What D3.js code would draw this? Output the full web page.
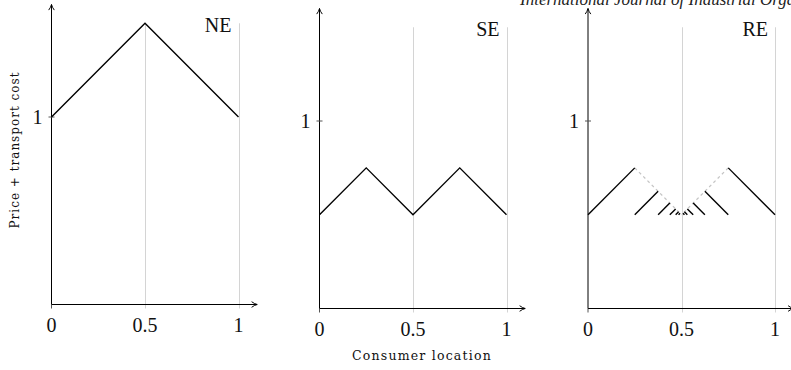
<!DOCTYPE html>
<html>
<head>
<meta charset="utf-8">
<script src="https://cdn.jsdelivr.net/npm/d3@7"></script>
<style>
  body { margin: 0; background: #fff; }
  svg { display: block; }
</style>
</head>
<body>
<div id="chart"></div>
<script>
// tick values and panel names
const xTicks = [0, 0.5, 1];
const yTicks = [1];
const panelNames = ["NE", "SE", "RE"];

// NE: single peak
const neX = [0, 0.5, 1];
const neY = [1, 1.5, 1];

// SE: two peaks
const seX = [0, 0.25, 0.5, 0.75, 1];
const seY = [0.5, 0.75, 0.5, 0.75, 0.5];

// RE: solid pieces [x1, y1, x2, y2]
const reSolid = [
  [0, 0.5, 0.25, 0.75],
  [0.25, 0.5, 0.375, 0.625],
  [0.375, 0.5, 0.4375, 0.5625],
  [0.4375, 0.5, 0.46875, 0.53125],
  [0.46875, 0.5, 0.484375, 0.515625],
  [0.484375, 0.5, 0.4921875, 0.5078125],
  [1, 0.5, 0.75, 0.75],
  [0.75, 0.5, 0.625, 0.625],
  [0.625, 0.5, 0.5625, 0.5625],
  [0.5625, 0.5, 0.53125, 0.53125],
  [0.53125, 0.5, 0.515625, 0.515625],
  [0.515625, 0.5, 0.5078125, 0.5078125]
];
// RE: grey dashed envelope
const reDashed = [
  [0.25, 0.75, 0.5, 0.5],
  [0.75, 0.75, 0.5, 0.5]
];

const W = 791, H = 370;
const serif = "Liberation Serif";
const small = "DejaVu Serif";

const svg = d3.select("#chart").append("svg")
  .attr("width", W)
  .attr("height", H);

// arrow head like tikz "->"
svg.append("defs").append("marker")
  .attr("id", "arr")
  .attr("viewBox", "0 0 10 10")
  .attr("refX", 9)
  .attr("refY", 5)
  .attr("markerWidth", 7)
  .attr("markerHeight", 7)
  .attr("markerUnits", "userSpaceOnUse")
  .attr("orient", "auto")
  .append("path")
  .attr("d", "M1,1 Q5,4 9,5 Q5,6 1,9")
  .attr("fill", "none")
  .attr("stroke", "#000")
  .attr("stroke-width", 1.4);

// journal header, cut at the top edge
svg.append("text")
  .attr("x", 520)
  .attr("y", 5)
  .attr("font-family", serif)
  .attr("font-style", "italic")
  .attr("font-size", "17px")
  .attr("fill", "#222")
  .text("International Journal of Industrial Organization");

const panels = [
  { x0: 51.5, base: 304.5 },
  { x0: 319.5, base: 308.5 },
  { x0: 588, base: 308.5 }
];

panels.forEach((p, i) => {
  const x = d3.scaleLinear().domain([0, 1]).range([p.x0, p.x0 + 187]);
  const y = d3.scaleLinear().domain([0, 1]).range([p.base, p.base - 187.5]);
  const g = svg.append("g");

  // grey verticals at 0.5 and 1
  g.selectAll(".grid")
    .data(xTicks.filter(d => d > 0))
    .enter().append("line")
    .attr("x1", d => Math.round(x(d)) + 0.5)
    .attr("x2", d => Math.round(x(d)) + 0.5)
    .attr("y1", y(1.5))
    .attr("y2", y(0) + 4)
    .attr("stroke", "#d4d4d4")
    .attr("stroke-width", 1);

  // x axis
  g.append("line")
    .attr("x1", x(0)).attr("x2", x(1.1))
    .attr("y1", y(0)).attr("y2", y(0))
    .attr("stroke", "#000").attr("stroke-width", 1)
    .attr("marker-end", "url(#arr)");
  g.append("line")
    .attr("x1", x(0)).attr("x2", x(0))
    .attr("y1", y(0)).attr("y2", y(0) + 4)
    .attr("stroke", "#555");

  // y axis
  g.append("line")
    .attr("x1", x(0)).attr("x2", x(0))
    .attr("y1", y(0)).attr("y2", y(1.6))
    .attr("stroke", "#000").attr("stroke-width", 1)
    .attr("marker-end", "url(#arr)");

  g.selectAll(".ytick")
    .data(yTicks)
    .enter().append("line")
    .attr("x1", x(0) - 3).attr("x2", x(0) + 3)
    .attr("y1", d => y(d)).attr("y2", d => y(d))
    .attr("stroke", "#555");

  // tick labels
  g.selectAll(".xl")
    .data(xTicks)
    .enter().append("text")
    .attr("x", d => x(d))
    .attr("y", y(0) + 27)
    .attr("text-anchor", "middle")
    .attr("font-family", serif)
    .attr("font-size", "20px")
    .attr("fill", "#111")
    .text(d => d3.format("")(d));

  g.selectAll(".yl")
    .data(yTicks)
    .enter().append("text")
    .attr("x", x(0) - 9)
    .attr("y", d => y(d) + 7)
    .attr("text-anchor", "end")
    .attr("font-family", serif)
    .attr("font-size", "20px")
    .attr("fill", "#111")
    .text(d => d);

  // panel name
  g.append("text")
    .attr("x", x(1) - 7)
    .attr("y", y(1.5) + 9)
    .attr("text-anchor", "end")
    .attr("font-family", serif)
    .attr("font-size", "20px")
    .attr("fill", "#111")
    .text(panelNames[i]);

  const line = d3.line().x(d => x(d[0])).y(d => y(d[1]));

  if (i === 0) {
    g.append("path")
      .attr("d", line(d3.zip(neX, neY)))
      .attr("fill", "none").attr("stroke", "#000").attr("stroke-width", 1.4);
  } else if (i === 1) {
    g.append("path")
      .attr("d", line(d3.zip(seX, seY)))
      .attr("fill", "none").attr("stroke", "#000").attr("stroke-width", 1.4);
  } else {
    g.selectAll(".dash")
      .data(reDashed)
      .enter().append("line")
      .attr("x1", d => x(d[0])).attr("y1", d => y(d[1]))
      .attr("x2", d => x(d[2])).attr("y2", d => y(d[3]))
      .attr("stroke", "#c4c4c4").attr("stroke-width", 1.2)
      .attr("stroke-dasharray", "3 3");
    g.selectAll(".seg")
      .data(reSolid)
      .enter().append("line")
      .attr("x1", d => x(d[0])).attr("y1", d => y(d[1]))
      .attr("x2", d => x(d[2])).attr("y2", d => y(d[3]))
      .attr("stroke", "#000").attr("stroke-width", 1.4);
  }
});

// shared axis titles
svg.append("text")
  .attr("x", 422)
  .attr("y", 360)
  .attr("text-anchor", "middle")
  .attr("font-family", small)
  .attr("font-size", "12.5px")
  .attr("letter-spacing", "1.2px")
  .attr("fill", "#111")
  .text("Consumer location");

svg.append("text")
  .attr("transform", "translate(19,150) rotate(-90)")
  .attr("text-anchor", "middle")
  .attr("font-family", small)
  .attr("font-size", "12px")
  .attr("letter-spacing", "1px")
  .attr("fill", "#111")
  .text("Price + transport cost");
</script>
</body>
</html>
